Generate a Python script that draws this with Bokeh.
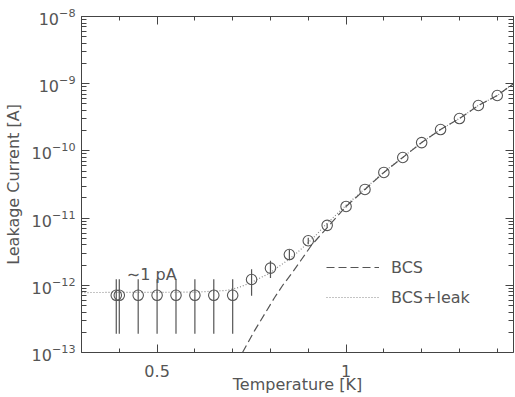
import numpy as np
from bokeh.plotting import figure
from bokeh.models import (Range1d, LinearAxis, LogAxis, FixedTicker, CustomJSTickFormatter,
                          Legend, LegendItem, Label, ColumnDataSource)
from bokeh.embed import file_html
from bokeh.resources import INLINE

# ---- data ----
temps = [0.392, 0.400, 0.45, 0.50, 0.55, 0.60, 0.65, 0.70, 0.75, 0.80, 0.85, 0.90,
         0.95, 1.00, 1.05, 1.10, 1.15, 1.20, 1.25, 1.30, 1.35, 1.40]
current = [7.1e-13, 7.1e-13, 7.1e-13, 7.1e-13, 7.1e-13, 7.1e-13, 7.1e-13, 7.1e-13,
           1.22e-12, 1.8e-12, 2.87e-12, 4.6e-12, 7.8e-12, 1.49e-11, 2.67e-11, 4.78e-11,
           7.98e-11, 1.33e-10, 2.08e-10, 3.03e-10, 4.74e-10, 6.67e-10]
current_err = [0.52e-12, 0.52e-12, 0.52e-12, 0.52e-12, 0.52e-12, 0.52e-12, 0.52e-12, 0.52e-12,
               0.52e-12, 0.52e-12, 0.52e-12, 0.52e-12, 0.52e-12, 0.52e-12, 0.52e-12, 0.52e-12,
               0.52e-12, 0.52e-12, 0.52e-12, 0.52e-12, 0.52e-12, 0.52e-12]

bcs_T = [0.726, 0.758, 0.811, 0.832, 0.858, 0.882, 0.908, 0.943, 1.00, 1.05, 1.10, 1.15,
         1.20, 1.25, 1.30, 1.35, 1.40, 1.443]
bcs_I = [1.0e-13, 2.12e-13, 6.58e-13, 9.93e-13, 1.55e-12, 2.42e-12, 3.91e-12, 6.53e-12,
         1.49e-11, 2.67e-11, 4.78e-11, 7.98e-11, 1.33e-10, 2.08e-10, 3.03e-10, 4.74e-10,
         6.67e-10, 1.0e-9]

leak_T = [0.30, 0.60, 0.686, 0.717, 0.749, 0.775, 0.797, 0.818, 0.845, 0.871, 0.895, 0.922,
          0.944, 1.00, 1.05, 1.10, 1.15, 1.20, 1.25, 1.30, 1.35, 1.40, 1.443]
leak_I = [7.8e-13, 7.9e-13, 8.4e-13, 9.3e-13, 1.10e-12, 1.31e-12, 1.50e-12, 1.84e-12,
          2.34e-12, 3.08e-12, 4.05e-12, 5.70e-12, 7.76e-12, 1.55e-11, 2.75e-11, 4.85e-11,
          8.05e-11, 1.34e-10, 2.09e-10, 3.04e-10, 4.75e-10, 6.68e-10, 1.0e-9]

x_major_ticks = [0.5, 1.0]
x_minor_ticks = [0.3, 0.4, 0.5, 0.6, 0.7, 0.8, 0.9, 1.0, 1.1, 1.2, 1.3, 1.4]
y_major_ticks = [1e-13, 1e-12, 1e-11, 1e-10, 1e-9, 1e-8]
y_minor_mantissas = [2, 3, 4, 5, 6, 7, 8, 9]

x_range = (0.3, 1.443)
y_range = (1e-13, 1e-8)

AX = "#444444"
TXT = "#555555"
FONT = "DejaVu Sans"

y_minor_ticks = [m * t for t in y_major_ticks[:-1] for m in y_minor_mantissas]

p = figure(frame_width=432, frame_height=336, output_backend="svg", toolbar_location=None,
           x_range=Range1d(*x_range), y_range=Range1d(*y_range), y_axis_type="log",
           min_border_left=74, min_border_top=16, min_border_right=0, min_border_bottom=0)
p.outline_line_color = None
p.grid.visible = False
p.background_fill_color = "white"
p.border_fill_color = "white"

xt = FixedTicker(ticks=x_major_ticks, minor_ticks=x_minor_ticks)
yt = FixedTicker(ticks=y_major_ticks, minor_ticks=y_minor_ticks)

def style(ax):
    ax.axis_line_color = AX
    ax.major_tick_line_color = AX
    ax.minor_tick_line_color = AX
    ax.major_tick_in = 8
    ax.major_tick_out = 0
    ax.minor_tick_in = 4
    ax.minor_tick_out = 0
    ax.major_label_text_color = TXT
    ax.major_label_text_font = FONT
    ax.axis_label_text_color = TXT
    ax.axis_label_text_font = FONT
    ax.axis_label_text_font_style = "normal"

xa = p.xaxis[0]
xa.ticker = xt
xa.formatter = CustomJSTickFormatter(code="return tick.toString();")
style(xa)
xa.axis_label = "Temperature [K]"
xa.major_label_text_font_size = "16px"
xa.axis_label_text_font_size = "16px"
xa.major_label_standoff = 12
xa.axis_label_standoff = -5

ya = p.yaxis[0]
ya.ticker = yt
style(ya)
ya.axis_label = "Leakage Current [A]"
ya.major_label_text_font_size = "16px"
ya.axis_label_text_font_size = "16px"
ya.major_label_standoff = 6
ya.axis_label_standoff = 6
ya.minor_tick_in = 5

# frame-only axes (ticks, no visible labels)
blank = CustomJSTickFormatter(code="return ' ';")
top = LinearAxis(ticker=xt, formatter=blank)
style(top)
top.major_label_text_font_size = "1px"
top.major_label_standoff = 0
p.add_layout(top, "above")
right = LinearAxis(ticker=yt, formatter=blank)
style(right)
right.minor_tick_in = 5
right.major_label_text_font_size = "1px"
right.major_label_standoff = 0
p.add_layout(right, "right")

# curves
leak_r = p.line(leak_T, leak_I, line_color="#8a8a8a", line_width=1.2, line_dash="1 2")
bcs_r = p.line(bcs_T, bcs_I, line_color="#555555", line_width=1.2, line_dash="8 4")

# error bars and points
src = ColumnDataSource(dict(
    x=temps, y=current,
    lo=[c - e for c, e in zip(current, current_err)],
    hi=[c + e for c, e in zip(current, current_err)]))
p.segment(x0="x", y0="lo", x1="x", y1="hi", source=src, line_color="#555555", line_width=1.2)
p.scatter(x="x", y="y", source=src, marker="circle", size=10.5, fill_color=None,
          line_color="#555555", line_width=1.1)

p.add_layout(Label(x=0.42, y=1.45e-12, text="\u223c1 pA", text_font=FONT,
                   text_font_size="16px", text_color=TXT, text_baseline="alphabetic"))

legend = Legend(items=[LegendItem(label="BCS", renderers=[bcs_r]),
                       LegendItem(label="BCS+leak", renderers=[leak_r])],
                location=(245, 45), orientation="vertical")
legend.glyph_width = 53
legend.glyph_height = 20
legend.label_height = 20
legend.spacing = 10
legend.padding = 0
legend.margin = 0
legend.label_standoff = 12
legend.border_line_color = None
legend.background_fill_alpha = 0
legend.label_text_font = FONT
legend.label_text_font_size = "16px"
legend.label_text_color = TXT
p.add_layout(legend, "center")

open("out.html", "w").write(file_html(p, INLINE))
